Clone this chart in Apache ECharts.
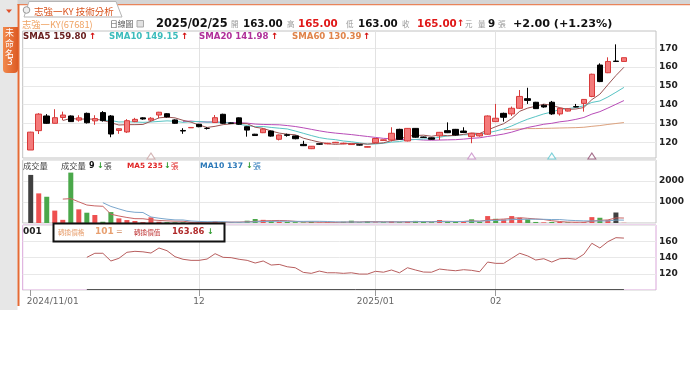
<!DOCTYPE html>
<html><head><meta charset="utf-8">
<script src="https://cdn.jsdelivr.net/npm/echarts@6/dist/echarts.min.js"></script>
<style>html,body{margin:0;padding:0;background:#fff;}#c{width:690px;height:368px;}</style>
</head><body><div id="c"></div><script>
// ---- trading days ----
const novDays=[1,4,5,6,7,8,11,12,13,14,15,18,19,20,21,22,25,26,27,28,29];
const decDays=[2,3,4,5,6,9,10,11,12,13,16,17,18,19,20,23,24,25,26,27,30,31];
const janDays=[2,3,6,7,8,9,10,13,14,15,16,17,20,21,22];
const febDays=[3,4,5,6,7,10,11,12,13,14,17,18,19,20,21,24,25];
const p2=d=>(d<10?'0':'')+d;
const dates=[].concat(novDays.map(d=>'2024/11/'+p2(d)),decDays.map(d=>'2024/12/'+p2(d)),janDays.map(d=>'2025/01/'+p2(d)),febDays.map(d=>'2025/02/'+p2(d)));
const tickLabels={'2024/11/01':'2024/11/01','2024/12/02':'12','2025/01/02':'2025/01','2025/02/03':'02'};

// ---- prices ----
const opens=[115.9,126.2,134.0,130.1,133.2,134.0,131.8,135.4,131.4,135.8,134.0,126.3,125.5,131.0,133.0,131.8,134.5,135.2,131.9,126.3,127.7,129.6,127.4,130.5,134.9,130.3,133.0,128.3,124.3,125.1,126.0,121.6,124.0,123.4,118.9,116.6,119.2,119.2,119.7,119.2,118.8,118.7,117.4,119.8,121.0,121.2,126.9,120.7,127.4,122.8,122.4,123.4,126.2,126.9,126.0,123.0,123.4,124.3,131.0,135.4,135.1,138.1,143.2,141.3,139.7,141.3,135.1,136.6,139.0,140.7,144.4,161.1,157.0,163.2,163.0];
const closes=[125.4,135.0,130.1,133.1,134.5,131.0,133.0,130.4,132.6,131.5,124.4,127.2,131.5,132.2,132.4,132.8,136.0,133.5,130.1,126.0,127.9,128.3,127.4,133.1,130.1,130.1,129.6,126.5,123.6,127.0,123.3,123.9,123.7,121.9,118.2,117.9,119.0,119.5,120.0,119.5,119.1,118.5,117.7,122.0,121.3,124.8,121.6,127.4,122.7,122.6,121.6,125.3,125.1,123.9,125.2,124.8,124.6,134.0,132.8,133.3,138.1,144.4,142.3,137.9,138.8,135.1,138.1,137.8,138.8,142.8,156.2,152.3,163.0,163.0,165.0];
const lows=[115.9,124.4,129.8,130.0,131.8,130.8,131.0,130.0,129.3,131.0,122.7,124.5,125.0,130.7,132.0,131.3,132.8,133.2,129.8,124.5,127.6,128.0,126.8,130.3,129.8,129.9,129.3,123.0,123.4,124.9,123.0,121.0,123.0,121.6,118.0,116.4,118.7,119.0,119.6,119.0,118.6,118.3,117.3,119.6,120.9,120.5,121.3,120.5,122.4,122.4,121.4,121.2,124.9,123.6,124.9,119.5,123.0,124.0,130.8,131.0,134.0,137.8,140.4,137.7,138.4,134.6,134.2,136.4,138.6,136.3,144.0,152.0,156.8,163.0,163.0];
const highs=[125.6,135.5,135.0,137.6,136.3,134.3,134.4,135.8,134.4,136.6,134.5,127.3,132.3,133.0,133.3,133.4,136.2,135.5,132.2,127.5,128.0,129.8,128.0,134.5,135.2,130.5,133.2,128.5,124.5,127.6,126.2,124.1,124.6,123.6,120.8,118.0,119.4,119.7,120.2,119.8,119.3,118.9,117.9,122.2,121.5,128.0,127.2,127.6,127.6,123.0,122.6,125.5,130.6,127.1,128.0,125.0,124.8,134.3,140.4,135.8,139.0,147.8,149.0,141.5,140.2,142.0,138.3,138.0,140.4,143.0,156.5,162.0,165.2,172.1,165.0];

// ---- moving averages, first index given ----
const sma5Start=4, sma5=[131.6,132.7,132.3,132.4,132.3,131.7,130.4,129.2,129.4,129.4,129.5,131.2,133.0,133.4,133.0,131.7,130.7,129.2,127.9,128.5,129.4,129.8,130.1,129.9,128.0,127.4,126.0,124.9,124.3,124.0,122.2,121.1,120.1,119.3,118.9,119.2,119.4,119.3,119.0,119.4,119.7,120.9,121.5,123.4,123.6,123.8,123.2,123.9,123.5,123.7,124.2,124.9,124.7,126.5,128.3,129.9,132.6,136.5,138.2,139.2,140.3,139.7,138.4,137.5,137.7,138.5,142.7,145.6,150.6,155.5,159.9];
const sma10Start=9, sma10=[131.7,131.6,130.8,130.9,130.8,130.6,130.8,131.1,131.4,131.2,130.6,131.0,131.1,130.7,130.8,130.5,130.3,129.6,128.9,128.3,128.4,127.9,127.5,127.1,126.0,124.8,123.6,122.5,121.8,121.4,120.7,120.3,119.7,119.1,119.1,119.5,120.1,120.4,121.2,121.5,121.8,122.0,122.7,123.4,123.6,124.0,124.0,124.3,125.0,126.0,127.1,128.7,130.6,132.3,133.7,135.1,136.1,137.5,137.9,138.5,139.4,141.2,142.0,144.1,146.6,149.2];
const sma20Start=19, sma20=[131.1,131.3,130.9,130.8,130.8,130.6,130.5,130.4,130.2,129.7,129.5,129.4,129.3,128.9,128.4,127.7,126.9,126.1,125.4,124.9,124.5,124.1,123.6,123.1,122.6,122.1,121.9,121.5,121.5,121.5,121.2,121.1,121.2,121.3,121.4,121.7,122.1,122.4,123.1,123.7,124.4,125.4,126.7,127.9,128.7,129.6,130.1,130.9,131.4,132.2,133.2,135.0,136.3,138.2,140.2,142.2];
const sma60Start=59, sma60=[126.7,126.9,127.1,127.3,127.3,127.4,127.5,127.6,127.7,127.8,128.0,128.5,128.9,129.5,130.0,130.5];

// ---- volume ----
const volumes=[2290,1410,1250,590,150,2400,650,490,380,60,520,220,140,95,40,270,60,40,30,30,20,20,30,90,40,20,30,110,190,150,90,60,50,40,30,60,20,30,20,60,110,30,90,30,40,80,40,70,100,60,40,140,60,60,70,175,60,330,200,170,330,240,175,50,30,50,50,30,25,40,280,250,140,500,9];
const vma5Start=4, vma5=[1138,1160,1008,856,814,796,420,334,264,207,203,153,121,101,88,86,36,28,26,38,40,40,42,58,78,100,114,120,108,78,54,48,40,36,32,38,48,50,62,64,60,54,56,52,66,70,62,82,80,72,74,101,85,139,167,187,218,254,223,193,165,109,71,42,37,39,85,125,147,242,236];
const vma10Start=9, vma10=[967,790,671,560,511,500,287,228,183,148,145,95,75,64,63,63,38,35,42,58,70,77,81,83,78,77,81,80,72,55,46,48,45,49,48,49,51,53,57,65,65,58,69,66,69,72,82,84,110,120,131,160,170,181,180,176,164,163,133,115,102,97,98,95,140,137];

// ---- convertible value panel ----
const cbStart=7, cbValue=[140.2,145.2,145.2,135.7,139,146.4,147.6,147,145.5,151.7,148.4,141,137.8,136.5,136.5,138.1,144.7,140.2,139.8,137.8,136.5,133.2,135.7,130.7,131.5,128.6,127.4,121.7,120.5,123.3,121.2,121.2,120.5,121.2,119.6,119.6,123,121.9,124.6,121.2,127.4,124.6,122.1,121.9,125.8,124.6,123.7,125,124.2,122.5,134.4,132.8,132.8,139,145.2,141.9,136.9,138.5,134.4,138.5,139,137.8,144,157.5,151.7,159.5,164.4,163.9];
const convPrice=101;

// ---- signal triangles ----
const sigIdx=[15,55,65,70];
const sigColor=['#c9a3a3','#c78ac7','#5cc6d0','#8e4a6e'];

// ================= build =================
const FONT='DejaVu Sans';
const CJK='"Noto Sans CJK TC","DejaVu Sans"';
const cats=[''].concat(dates,['','','','']);
const tickIdx=[]; dates.forEach((d,i)=>{ if(tickLabels[d]) tickIdx.push(i+1); });
const splitIdx=tickIdx.slice(1);
const xy=(start,arr)=>arr.map((v,k)=>[start+k+1,v]);

function xAx(g,show){
  return {type:'category',gridIndex:g,data:cats,boundaryGap:false,
    axisLine:{show:false},
    axisTick:{show:show,interval:(i)=>tickIdx.indexOf(i)>=0,length:6,lineStyle:{color:'#9a9a9a'}},
    axisLabel:{show:show,interval:(i)=>tickIdx.indexOf(i)>=0,color:'#666',fontSize:9,fontFamily:FONT,margin:7,
      formatter:(v)=>{const t=tickLabels[v]||''; return v==='2024/11/01'?'{a|'+t+'}':t;},
      rich:{a:{padding:[0,0,0,44],color:'#666',fontSize:9,fontFamily:FONT}}},
    splitLine:{show:true,interval:(i)=>splitIdx.indexOf(i)>=0,lineStyle:{color:'#e2e2e2',width:1}}};
}
const yLab={color:'#222',fontWeight:'bold',fontSize:9,fontFamily:FONT,margin:3};
const G={left:22.7,right:34};
const RED='#ee5050',GREEN='#4aa84a',DARK='#404040';

const volData=volumes.map((v,i)=>{
  let c=DARK;
  if(i>0){ if(closes[i]>closes[i-1]) c=RED; else if(closes[i]<closes[i-1]) c=GREEN; }
  return {value:[i+1,v],itemStyle:{color:c}};
});

function T(x,y,text,fill,size,bold,fam){return {type:'text',x:x,y:y,z:100,style:{text:text,fill:fill,font:(bold?'bold ':'')+size+'px '+(fam||FONT),verticalAlign:'middle'}};}

const graphics=[
  // top bar and left strip
  {type:'rect',shape:{x:0,y:0,width:690,height:4},style:{fill:'#d5d5d5'},z:50},
  {type:'rect',shape:{x:0,y:4,width:690,height:1.3},style:{fill:'#e8845a'},z:50},
  {type:'rect',shape:{x:0,y:0,width:17.5,height:310},style:{fill:'#e7e7e7'},z:50},
  {type:'rect',shape:{x:17.5,y:4,width:2,height:302},style:{fill:'#e46a34'},z:51},
  {type:'polygon',shape:{points:[[24,17],[29,1.5],[116,1.5],[122,17]]},style:{fill:'#fff',stroke:'#b5b5b5',lineWidth:1},z:52},
  {type:'circle',shape:{cx:26.5,cy:10,r:3.3},style:{fill:'#eee',stroke:'#999',lineWidth:1},z:53},
  T(34,11,'志強一KY 技術分析','#d9541e',9.5,false,CJK),
  {type:'polygon',shape:{points:[[6,9.5],[12,9.5],[9,13]]},style:{fill:'#e0502a'},z:53},
  {type:'rect',shape:{x:3,y:27,width:15,height:46,r:[0,0,4,4]},style:{fill:new echarts.graphic.LinearGradient(0,0,1,0,[{offset:0,color:'#f2894c'},{offset:1,color:'#dc5a24'}])},z:53},
  T(5,33,'未','#fff',9,false,CJK),T(5,44,'命','#fff',9,false,CJK),T(5,54,'名','#fff',9,false,CJK),T(7,63,'3','#fff',9,false,FONT),
  // header
  T(22,24,'志強一KY(67681)','#efa262',9.3,false,CJK),
  T(110,24,'日線圖','#555',7.8,false,CJK),
  {type:'rect',shape:{x:137,y:20.5,width:6.5,height:6.5},style:{fill:'#e2e2e2',stroke:'#aaa',lineWidth:1},z:100},
  T(156,24,'2025/02/25','#111',11.4,true),
  T(231,24,'開','#999',7.5,false,CJK),T(243,24,'163.00','#111',10.3,true),
  T(287,24,'高','#999',7.5,false,CJK),T(298,24,'165.00','#e01818',10.3,true),
  T(346,24,'低','#999',7.5,false,CJK),T(358,24,'163.00','#111',10.3,true),
  T(402,24,'收','#999',7.5,false,CJK),T(417,24,'165.00','#e01818',10.3,true),T(457,24,'↑','#e01818',9,true),
  T(465,24,'元','#999',7.5,false,CJK),
  T(478,24,'量','#999',7.5,false,CJK),T(488,24,'9','#111',10.3,true),T(498,24,'張','#999',7.8,false,CJK),
  T(513,24,'+2.00 (+1.23%)','#111',11.2,true),
  // main legend
  T(23,37,'SMA5 159.80','#6a2020',8.6,true),T(89,37,'↑','#d41010',8.6,true),
  T(109,37,'SMA10 149.15','#3cbcbc',8.6,true),T(181,37,'↑','#d41010',8.6,true),
  T(199,37,'SMA20 141.98','#b0309a',8.6,true),T(271,37,'↑','#d41010',8.6,true),
  T(292,37,'SMA60 130.39','#e0844a',8.6,true),T(363,37,'↑','#d41010',8.6,true),
  // volume legend
  T(23,166,'成交量','#444',8.3,false,CJK),
  T(61,166,'成交量','#444',8.3,false,CJK),T(89,166,'9','#111',8,true),T(97,166,'↓','#2f9a2f',8,true),T(104,166,'張','#444',7.7,false,CJK),
  T(127,166,'MA5 235','#e02424',7.3,true),T(164,166,'↓','#2f9a2f',8,true),T(171,166,'張','#e02424',7.5,false,CJK),
  T(200,166,'MA10 137','#2a78b8',7.7,true),T(246,166,'↓','#2f9a2f',8,true),T(253,166,'張','#2a78b8',8,false,CJK),
  // cb legend
  T(23,231.5,'001','#222',9,true),
  {type:'rect',shape:{x:53.5,y:223.5,width:171,height:18},style:{fill:'#fff',stroke:'#111',lineWidth:2},z:99},
  T(58,232,'轉換價格','#e8a070',6.6,false,CJK),T(95,232,'101','#e8a070',9,true),T(116,232,'=','#d08a60',8,false),
  T(134,232,'轉換價值','#c03a3a',6.6,false,CJK),T(172,232,'163.86','#b02a2a',8.4,true),T(207,232,'↓','#2f9a2f',8,true)
];

const option={
  animation:false,
  backgroundColor:'#fff',
  grid:[
    Object.assign({top:31,height:127,show:true,borderColor:'#c2c2c2',borderWidth:1},G),
    Object.assign({top:160,height:63,show:true,borderColor:'#c2c2c2',borderWidth:1},G),
    Object.assign({top:225,height:65,show:true,borderColor:'#d9a6d9',borderWidth:1},G)
  ],
  xAxis:[xAx(0,false),xAx(1,false),xAx(2,true)],
  yAxis:[
    {type:'value',gridIndex:0,position:'right',min:111.65,max:179.2,
      axisLabel:Object.assign({customValues:[120,130,140,150,160,170]},yLab),
      axisTick:{show:false,customValues:[120,130,140,150,160,170]},axisLine:{show:false},
      splitLine:{lineStyle:{color:'#e8e8e8'}}},
    {type:'value',gridIndex:1,position:'right',min:0,max:3000,interval:1000,
      axisLabel:Object.assign({formatter:(v)=>(v===1000||v===2000)?String(v):''},yLab),
      axisTick:{show:false},axisLine:{show:false},splitLine:{lineStyle:{color:'#e8e8e8'}}},
    {type:'value',gridIndex:2,position:'right',min:100,max:180,interval:20,
      axisLabel:Object.assign({formatter:(v)=>(v>=120&&v<=160)?String(v):''},yLab),
      axisTick:{show:false},axisLine:{show:false},splitLine:{lineStyle:{color:'#e8e8e8'}}}
  ],
  series:[
    {type:'line',xAxisIndex:0,yAxisIndex:0,data:xy(sma60Start,sma60),symbol:'none',lineStyle:{color:'#dca27e',width:1},z:2},
    {type:'line',xAxisIndex:0,yAxisIndex:0,data:xy(sma20Start,sma20),symbol:'none',lineStyle:{color:'#b84cb8',width:1},z:2},
    {type:'line',xAxisIndex:0,yAxisIndex:0,data:xy(sma10Start,sma10),symbol:'none',lineStyle:{color:'#58c4c4',width:1},z:2},
    {type:'line',xAxisIndex:0,yAxisIndex:0,data:xy(sma5Start,sma5),symbol:'none',lineStyle:{color:'#9a5454',width:1},z:2},
    {type:'candlestick',xAxisIndex:0,yAxisIndex:0,barWidth:6,z:3,
      encode:{x:0,y:[1,2,3,4]},
      data:opens.map((o,i)=>[i+1,o,closes[i],lows[i],highs[i]]),
      itemStyle:{color:'#f47a7a',color0:'#000',borderColor:'#d83a3a',borderColor0:'#000',borderWidth:1}},
    {type:'scatter',xAxisIndex:0,yAxisIndex:0,symbol:'triangle',symbolSize:[8,6],z:4,
      data:sigIdx.map((k,j)=>({value:[k+1,112.7],itemStyle:{color:'#fff',borderColor:sigColor[j],borderWidth:1}}))},
    {type:'bar',xAxisIndex:1,yAxisIndex:1,barWidth:5,data:volData,z:2},
    {type:'line',xAxisIndex:1,yAxisIndex:1,data:xy(vma5Start,vma5),symbol:'none',lineStyle:{color:'#c86464',width:1},z:3},
    {type:'line',xAxisIndex:1,yAxisIndex:1,data:xy(vma10Start,vma10),symbol:'none',lineStyle:{color:'#7aa6cc',width:1},z:3},
    {type:'line',xAxisIndex:2,yAxisIndex:2,data:xy(cbStart,cbValue),symbol:'none',lineStyle:{color:'#b85e5e',width:1},z:3,
      markLine:{silent:true,symbol:'none',label:{show:false},lineStyle:{color:'#555',type:'solid',width:1},
        data:[[{coord:[cbStart+1,convPrice]},{coord:[dates.length,convPrice]}]]}}
  ],
  graphic:graphics
};
const chart=echarts.init(document.getElementById('c'),null,{renderer:'canvas'});
chart.setOption(option);
</script></body></html>
